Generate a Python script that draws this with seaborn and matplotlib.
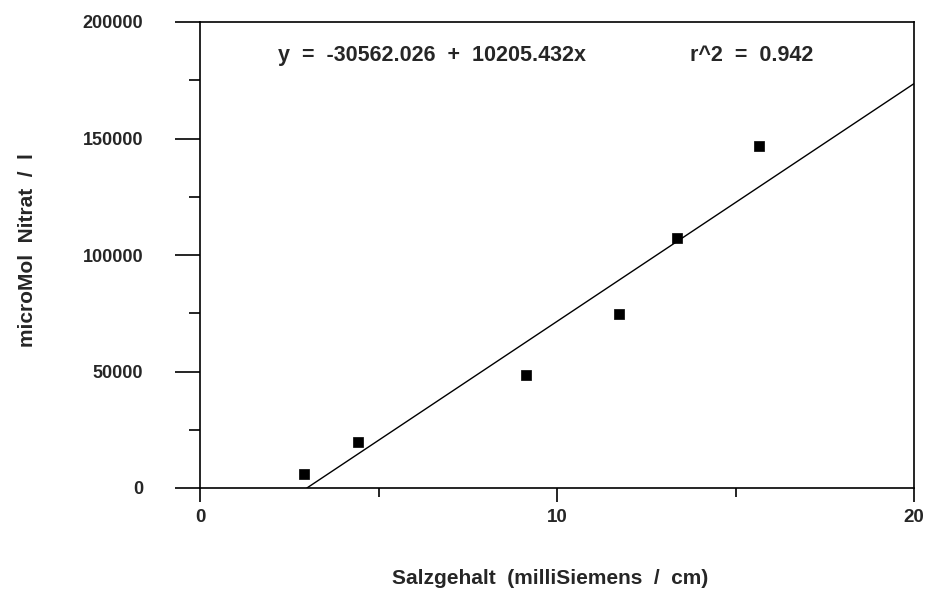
import numpy as np
import pandas as pd
import matplotlib
matplotlib.use("Agg")
import matplotlib.pyplot as plt
from matplotlib.ticker import MultipleLocator
import seaborn as sns

# data
salz = [2.91, 4.43, 9.13, 11.74, 13.36, 15.66]
nitrat = [6000, 19700, 48500, 74700, 107300, 146800]
intercept = -30562.026
slope = 10205.432
r2 = 0.942
fit_x = [-intercept / slope, 20.0]
x_ticks = [0, 10, 20]
y_ticks = [0, 50000, 100000, 150000, 200000]

sns.set_theme(style="white")
plt.rcParams['font.family'] = ['Liberation Sans', 'DejaVu Sans']
plt.rcParams['font.weight'] = 'bold'

fig = plt.figure(figsize=(9.39, 5.91), dpi=100)
ax = fig.add_axes([200/939, 1-488/591, 714/939, 466/591])

df = pd.DataFrame({"x": salz, "y": nitrat})
fit_df = pd.DataFrame({"x": fit_x, "y": [intercept + slope * v for v in fit_x]})

sns.lineplot(data=fit_df, x="x", y="y", ax=ax, color="black", linewidth=1.0)
sns.scatterplot(data=df, x="x", y="y", ax=ax, marker="s", s=55, color="black",
                edgecolor="black", linewidth=0.5, zorder=3)

ax.set_xlim(0, 20)
ax.set_ylim(0, 200000)
ax.set_xticks(x_ticks)
ax.set_yticks(y_ticks)
ax.xaxis.set_minor_locator(MultipleLocator(5))
ax.yaxis.set_minor_locator(MultipleLocator(25000))
ax.set_xticklabels([str(v) for v in x_ticks], fontsize=13.5, fontweight='bold')
ax.set_yticklabels([str(v) for v in y_ticks], fontsize=13, fontweight='bold')

ax.tick_params(axis='x', which='major', direction='out', length=10, width=1.2,
               pad=5, bottom=True, color='black')
ax.tick_params(axis='x', which='minor', direction='out', length=6.5, width=1.2,
               bottom=True, color='black')
ax.tick_params(axis='y', which='major', direction='out', length=18, width=1.2,
               pad=23, left=True, color='black')
ax.tick_params(axis='y', which='minor', direction='out', length=8, width=1.2,
               left=True, color='black')

for sp in ax.spines.values():
    sp.set_color('black')
    sp.set_linewidth(1.2)
    sp.set_visible(True)

ax.set_xlabel("Salzgehalt  (milliSiemens  /  cm)", fontsize=15, fontweight='bold')
ax.set_ylabel("microMol  Nitrat  /  l", fontsize=15, fontweight='bold')
ax.xaxis.set_label_coords((550-200)/714, -(578-488)/466)
ax.yaxis.set_label_coords(-(200-28)/714, 0.51)
ax.xaxis.label.set_va('center')
ax.yaxis.label.set_va('center')

ax.text(0.109, 0.929, "y  =  %.3f  +  %.3fx" % (intercept, slope),
        transform=ax.transAxes, ha='left', va='center', fontsize=15.5, fontweight='bold')
ax.text(0.686, 0.929, "r^2  =  %.3f" % r2,
        transform=ax.transAxes, ha='left', va='center', fontsize=15.5, fontweight='bold')

fig.savefig("out.png", dpi=100)
